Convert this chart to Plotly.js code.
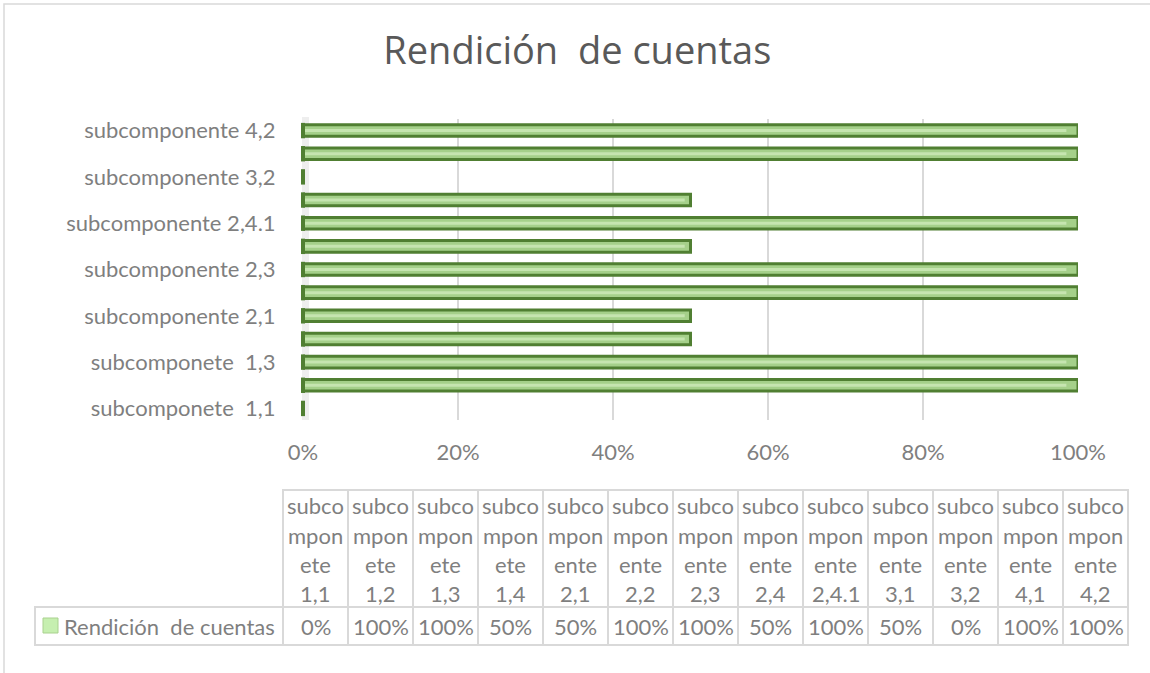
<!DOCTYPE html>
<html>
<head>
<meta charset="utf-8">
<script src="https://cdn.plot.ly/plotly-3.0.1.min.js"></script>
<style>
html,body{margin:0;padding:0;background:#fff;}
#chart{width:1150px;height:673px;}
</style>
</head>
<body>
<div id="chart"></div>
<script>
// ---- data ----
const chartTitle = "Rendición\u00a0 de cuentas";
const seriesName = "Rendición\u00a0 de cuentas";
const categories = [
  "subcomponete\u00a0 1,1",
  "subcomponete\u00a0 1,2",
  "subcomponete\u00a0 1,3",
  "subcomponete\u00a0 1,4",
  "subcomponente 2,1",
  "subcomponente 2,2",
  "subcomponente 2,3",
  "subcomponente 2,4",
  "subcomponente 2,4.1",
  "subcomponente 3,1",
  "subcomponente 3,2",
  "subcomponente 4,1",
  "subcomponente 4,2"
];
const values = [0, 100, 100, 50, 50, 100, 100, 50, 100, 50, 0, 100, 100];
const xTicks = [0, 20, 40, 60, 80, 100];

// ---- layout geometry (pixels) ----
const W = 1150, H = 673;
const L = 303, R = 1078, T = 119, B = 420;
const px = x => (x - L) / (R - L);
const py = y => (B - y) / (B - T);

const FONT = "Lato, 'Open Sans', sans-serif";
const GREY = "#7f7f7f";
const BORDER = "#d9d9d9";
const DARK = "#507f32";

const labelIdx = categories.map((c, i) => i).filter(i => i % 2 === 0);

const traces = [
  {
    type: "bar", orientation: "h",
    y: categories, x: values,
    width: 0.5,
    marker: {color: "#a5d08a", line: {color: DARK, width: 3}},
    hoverinfo: "skip", showlegend: false
  },
  {
    type: "bar", orientation: "h",
    y: categories, x: values.map(v => v * 0.985),
    width: 0.13,
    marker: {color: "#c6e5b0", line: {width: 0}},
    hoverinfo: "skip", showlegend: false
  },
  {
    type: "scatter", mode: "markers",
    y: categories, x: categories.map(() => 0),
    marker: {symbol: "line-ns", size: 11, line: {color: DARK, width: 4}},
    cliponaxis: false, hoverinfo: "skip", showlegend: false
  }
];

const shapes = [];
const annotations = [];

// outer chart frame
shapes.push({type: "rect", xref: "paper", yref: "paper",
  x0: px(4), x1: px(1170), y0: py(690), y1: py(4),
  line: {color: BORDER, width: 1.5}, fillcolor: "rgba(0,0,0,0)", layer: "below"});
// 3D side wall
shapes.push({type: "rect", xref: "paper", yref: "paper",
  x0: px(302), x1: px(309), y0: py(420), y1: py(117),
  line: {width: 0}, fillcolor: "#eeeeee", layer: "below"});

// ---- data table ----
const colL = 283, colW = 65, hTop = 490, hBot = 607, rBot = 645, legL = 35;
const lineYs = [505, 535, 564, 593];
categories.forEach((c, i) => {
  const x0 = colL + i * colW, x1 = x0 + colW, xc = (x0 + x1) / 2;
  shapes.push({type: "rect", xref: "paper", yref: "paper",
    x0: px(x0), x1: px(x1), y0: py(hBot), y1: py(hTop),
    line: {color: BORDER, width: 2}, fillcolor: "rgba(0,0,0,0)"});
  shapes.push({type: "rect", xref: "paper", yref: "paper",
    x0: px(x0), x1: px(x1), y0: py(rBot), y1: py(hBot),
    line: {color: BORDER, width: 2}, fillcolor: "rgba(0,0,0,0)"});
  const parts = c.replace(/\u00a0/g, " ").split(/\s+/);
  const word = parts[0], num = parts[1];
  const lines = [word.slice(0, 5), word.slice(5, 9), word.slice(9), num];
  lines.forEach((t, k) => {
    annotations.push({xref: "paper", yref: "paper", x: px(xc), y: py(lineYs[k]),
      text: t, showarrow: false, xanchor: "center", yanchor: "middle",
      font: {family: FONT, size: 22, color: GREY}});
  });
  annotations.push({xref: "paper", yref: "paper", x: px(xc), y: py((hBot + rBot) / 2),
    text: values[i] + "%", showarrow: false, xanchor: "center", yanchor: "middle",
    font: {family: FONT, size: 22, color: GREY}});
});
// legend cell
shapes.push({type: "rect", xref: "paper", yref: "paper",
  x0: px(legL), x1: px(colL), y0: py(rBot), y1: py(hBot),
  line: {color: BORDER, width: 2}, fillcolor: "rgba(0,0,0,0)"});
shapes.push({type: "rect", xref: "paper", yref: "paper",
  x0: px(43), x1: px(58), y0: py(633), y1: py(618),
  line: {color: "#a9d18e", width: 1}, fillcolor: "#c6efb0"});
annotations.push({xref: "paper", yref: "paper", x: px(62), y: py(626),
  text: seriesName, showarrow: false, xanchor: "left", yanchor: "middle",
  font: {family: FONT, size: 22, color: GREY}});

const layout = {
  width: W, height: H,
  margin: {l: L, r: W - R, t: T, b: H - B, pad: 0},
  paper_bgcolor: "#ffffff", plot_bgcolor: "rgba(0,0,0,0)",
  barmode: "overlay",
  title: {text: chartTitle, x: 0.502, xanchor: "center", xref: "container",
    y: 1 - 51 / H, yanchor: "middle",
    font: {family: "'Open Sans', Lato, sans-serif", size: 38, color: "#595959"}},
  xaxis: {
    range: [0, 100], tickvals: xTicks, ticktext: xTicks.map(v => v + "%"),
    showgrid: true, gridcolor: BORDER, gridwidth: 1.5,
    zeroline: false, showline: false,
    ticks: "outside", ticklen: 13, tickcolor: "rgba(0,0,0,0)",
    tickfont: {family: FONT, size: 22, color: GREY}, fixedrange: true
  },
  yaxis: {
    type: "category", categoryorder: "array", categoryarray: categories,
    range: [-0.5, categories.length - 0.5],
    tickvals: labelIdx.map(i => categories[i]),
    ticktext: labelIdx.map(i => categories[i]),
    showgrid: false, zeroline: false, showline: false,
    ticks: "outside", ticklen: 22, tickcolor: "rgba(0,0,0,0)",
    tickfont: {family: FONT, size: 22, color: GREY}, fixedrange: true
  },
  shapes: shapes,
  annotations: annotations,
  showlegend: false
};

Plotly.newPlot("chart", traces, layout, {staticPlot: true, displayModeBar: false});
</script>
</body>
</html>
